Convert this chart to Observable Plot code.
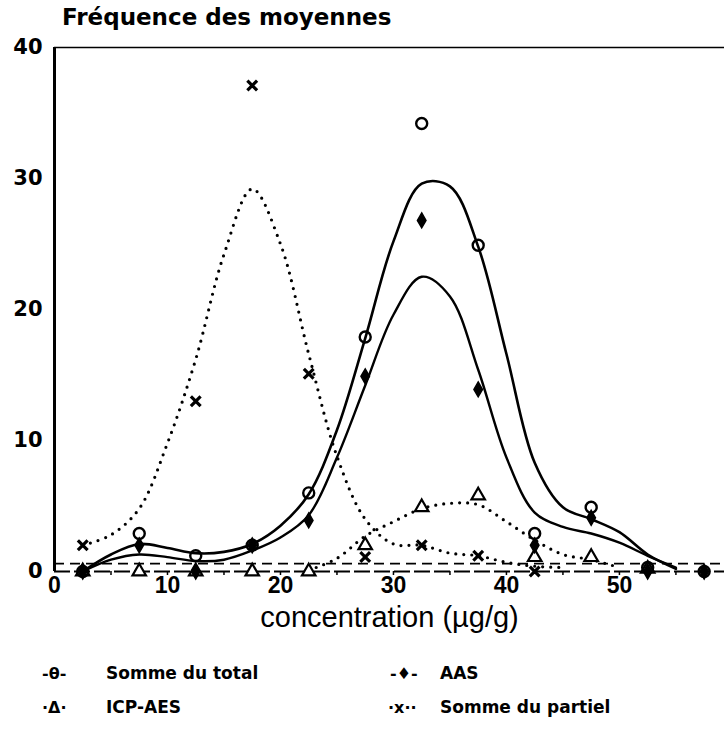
<!DOCTYPE html>
<html><head><meta charset="utf-8">
<script src="https://cdn.jsdelivr.net/npm/d3@7"></script>
<script src="https://cdn.jsdelivr.net/npm/@observablehq/plot@0.6"></script>
<style>
body{margin:0;background:#fff;}
#wrap{position:relative;width:724px;height:732px;overflow:hidden;font-family:"DejaVu Sans",sans-serif;color:#000;}
#chart{position:absolute;left:0;top:0;}
#title{position:absolute;left:62px;top:4px;font-weight:bold;font-size:23px;}
.leg{position:absolute;font-weight:bold;font-size:17px;white-space:pre;}
.sym{position:absolute;font-weight:bold;font-size:16px;white-space:pre;}
</style></head><body>
<div id="wrap"><div id="chart"></div><div id="title">Fréquence des moyennes</div></div>
<script>
// ---- data ----
const binCenters = [2.5, 7.5, 12.5, 17.5, 22.5, 27.5, 32.5, 37.5, 42.5, 47.5, 52.5, 57.5];
const totalPts   = [0, 2.9, 1.2, 2.0, 6.0, 17.9, 34.2, 24.9, 2.9, 4.9, 0.3, 0];
const aasPts     = [0, 2.0, 0, 2.0, 3.9, 14.9, 26.8, 13.9, 2.0, 4.1, 0, 0];
const icpPts     = [0, 0, 0, 0, 0, 2.0, 4.9, 5.8, 1.1, 1.1, 0.2, null];
const partielPts = [2.0, null, 13.0, 37.1, 15.1, 1.1, 2.0, 1.2, 0, null, null, null];

const fitX       = [2.5, 5, 7.5, 10, 12.5, 15, 17.5, 20, 22.5, 25, 27.5, 30, 32.5, 35, 37.5, 40, 42.5, 45, 47.5, 50, 52.5, 55];
const totalFit   = [0, 1.3, 2.1, 1.8, 1.4, 1.5, 2.1, 3.5, 5.9, 10.8, 17.8, 25.2, 29.6, 29.4, 24.8, 16.6, 8.3, 4.9, 4.0, 3.0, 1.3, 0.2];
const aasFit     = [0, 0.9, 1.3, 1.1, 0.8, 0.9, 1.6, 2.6, 4.3, 8.7, 14.2, 19.6, 22.5, 21.0, 15.4, 8.7, 4.5, 3.4, 2.9, 2.2, 1.2, 0.3];
const partielFitX = [2.5, 5, 7.5, 10, 12.5, 15, 17.5, 20, 22.5, 25, 27.5, 30, 32.5, 35, 37.5, 40, 42.5, 45];
const partielFit  = [2.0, 2.8, 4.8, 9.8, 16.2, 24.2, 29.2, 25.0, 16.6, 8.8, 4.0, 2.1, 2.0, 1.4, 1.2, 0.7, 0.4, 0.3];
const icpFitX    = [22.5, 25, 27.5, 30, 32.5, 35, 37.5, 40, 42.5, 45, 47.5, 50];
const icpFit     = [0.1, 1.0, 2.7, 3.8, 4.8, 5.2, 5.1, 3.8, 2.4, 1.3, 0.9, 0.3];

const baseLevels = [0, 0.6];
const yTicks = [0, 10, 20, 30, 40];
const xTicks = [0, 10, 20, 30, 40, 50];
const xMinorTicks = [5, 10, 15, 20, 25, 30, 35, 40, 45, 50, 55];
const titleText = "Fréquence des moyennes";
const xLabel = "concentration (µg/g)";
const legendLabels = ["Somme du total", "AAS", "ICP-AES", "Somme du partiel"];
const legendSymbols = ["-θ-", "-♦-", "·Δ·", "·x··"];

// ---- build tables ----
const pts = (vals) => binCenters.map((x, i) => ({x, y: vals[i]})).filter(d => d.y != null);
const fit = (xs, ys) => xs.map((x, i) => ({x, y: ys[i]}));

const chart = Plot.plot({
  width: 724, height: 650,
  marginTop: 47, marginBottom: 79, marginLeft: 54, marginRight: 0,
  x: {domain: [0, 59.3]},
  y: {domain: [0, 40]},
  style: {fontFamily: "DejaVu Sans", color: "#000", background: "transparent", overflow: "visible"},
  marks: [
    Plot.ruleY([40], {stroke: "#000", strokeWidth: 1.6}),
    Plot.ruleY([baseLevels[0]], {stroke: "#000", strokeWidth: 2, strokeDasharray: "16,4"}),
    Plot.ruleY([baseLevels[1]], {stroke: "#000", strokeWidth: 1.6, strokeDasharray: "10,6"}),
    Plot.ruleX([0], {stroke: "#000", strokeWidth: 3}),
    Plot.line(fit(fitX, totalFit), {x: "x", y: "y", curve: "catmull-rom", stroke: "#000", strokeWidth: 2.6}),
    Plot.line(fit(fitX, aasFit), {x: "x", y: "y", curve: "catmull-rom", stroke: "#000", strokeWidth: 2.4}),
    Plot.line(fit(partielFitX, partielFit), {x: "x", y: "y", curve: "catmull-rom", stroke: "#000", strokeWidth: 3.2, strokeDasharray: "0,8", strokeLinecap: "round"}),
    Plot.line(fit(icpFitX, icpFit), {x: "x", y: "y", curve: "catmull-rom", stroke: "#000", strokeWidth: 3.2, strokeDasharray: "0,8", strokeLinecap: "round"}),
    Plot.dot(pts(icpPts), {x: "x", y: "y", symbol: "triangle", r: 5, stroke: "#000", strokeWidth: 2.2, fill: "white"}),
    Plot.dot(pts(partielPts), {x: "x", y: "y", symbol: "times", r: 4.5, stroke: "#000", strokeWidth: 3.2}),
    Plot.dot(pts(aasPts), {x: "x", y: "y", symbol: "diamond", r: 4.5, stroke: "#000", strokeWidth: 1.5, fill: "#000"}),
    Plot.dot(pts(totalPts), {x: "x", y: "y", symbol: "circle", r: 5.5, stroke: "#000", strokeWidth: 2.4, fill: "none"}),
    Plot.axisY({ticks: yTicks, tickSize: 0, tickPadding: 12, fontSize: 21, fontWeight: "bold", label: null}),
    Plot.axisX({ticks: xMinorTicks, tickSize: 4, tickFormat: () => "", label: null, strokeWidth: 1.5}),
    Plot.axisX({ticks: xTicks, tickSize: 0, tickPadding: 5, fontSize: 23, fontFamily: "Liberation Sans", fontWeight: "bold", label: null}),
    Plot.text([xLabel], {frameAnchor: "bottom", dy: 55, fontSize: 29, fontFamily: "Liberation Sans", text: d => d})
  ]
});
document.getElementById("chart").appendChild(chart);
document.getElementById("title").textContent = titleText;

// legend
const wrap = document.getElementById("wrap");
const legPos = [[42, 106, 663], [390, 440, 663], [42, 106, 697], [388, 440, 697]];
legendLabels.forEach((lab, i) => {
  const [sx, tx, ty] = legPos[i];
  const s = document.createElement("div");
  s.className = "sym"; s.style.left = sx + "px"; s.style.top = (ty + 1) + "px"; s.textContent = legendSymbols[i];
  const t = document.createElement("div");
  t.className = "leg"; t.style.left = tx + "px"; t.style.top = ty + "px"; t.textContent = lab;
  wrap.appendChild(s); wrap.appendChild(t);
});
</script>
</body></html>
